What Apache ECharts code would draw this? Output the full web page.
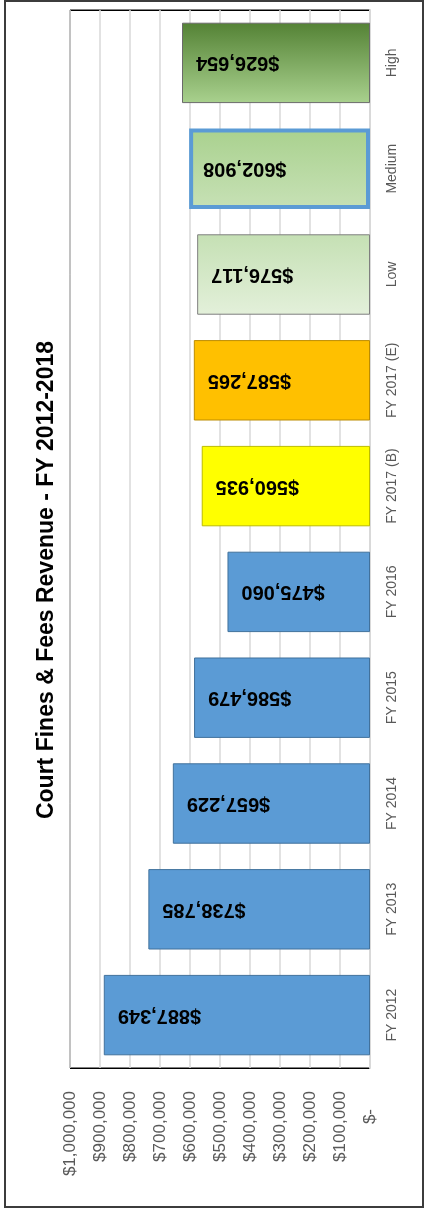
<!DOCTYPE html>
<html>
<head>
<meta charset="utf-8">
<script src="https://cdn.jsdelivr.net/npm/echarts@6/dist/echarts.min.js"></script>
<style>
  html, body { margin: 0; padding: 0; background: #ffffff; }
  #chart { width: 425px; height: 1209px; }
</style>
</head>
<body>
<div id="chart"></div>
<script>
// Court fines & fees revenue, actuals FY 2012-2016, FY 2017 budget/estimate, FY 2018 scenarios
const titleText = 'Court Fines & Fees Revenue - FY 2012-2018';
const categories = ['FY 2012', 'FY 2013', 'FY 2014', 'FY 2015', 'FY 2016',
                    'FY 2017 (B)', 'FY 2017 (E)', 'Low', 'Medium', 'High'];
const revenue = [887349, 738785, 657229, 586479, 475060, 560935, 587265, 576117, 602908, 626654];
const valueTickLabels = ['$-', '$100,000', '$200,000', '$300,000', '$400,000', '$500,000',
                         '$600,000', '$700,000', '$800,000', '$900,000', '$1,000,000'];
const valueMax = 1000000;
const valueStep = 100000;

const FONT = '"Liberation Sans", Arial, sans-serif';

function vGrad(top, bottom) {
  return new echarts.graphic.LinearGradient(0, 0, 0, 1, [
    { offset: 0, color: top },
    { offset: 1, color: bottom }
  ]);
}

// Fill/border per category: actuals blue, budget yellow, estimate orange, scenarios green
const actualStyle = { color: '#5b9bd5', borderColor: '#41719c', borderWidth: 1 };
const barStyles = [
  actualStyle, actualStyle, actualStyle, actualStyle, actualStyle,
  { color: '#ffff00', borderColor: '#bcbc00', borderWidth: 1 },
  { color: '#ffc000', borderColor: '#bc8c00', borderWidth: 1 },
  { color: vGrad('#c5e0b4', '#e3f0da'), borderColor: '#7f7f7f', borderWidth: 1 },
  { color: vGrad('#a9d18e', '#c7e1b6'), borderColor: '#5b9bd5', borderWidth: 4 },
  { color: vGrad('#548235', '#a9d18e'), borderColor: '#6a6a6a', borderWidth: 1 }
];

const chart = echarts.init(document.getElementById('chart'), null, { renderer: 'canvas' });

chart.setOption({
  backgroundColor: '#ffffff',
  animation: false,
  grid: {
    left: 70, right: 55, top: 10, bottom: 141,
    show: true, borderColor: '#000000', borderWidth: 1, backgroundColor: 'transparent'
  },
  xAxis: {
    type: 'value',
    inverse: true,
    position: 'bottom',
    min: 0,
    max: valueMax,
    interval: valueStep,
    axisLine: { show: false },
    axisTick: { show: false },
    splitLine: { show: true, lineStyle: { color: '#d9d9d9', width: 1.5 } },
    axisLabel: {
      rotate: 90,
      margin: 23,
      color: '#595959',
      fontFamily: FONT,
      fontSize: 17,
      formatter: function (v) {
        const i = Math.round(v / valueStep);
        return i === 0 ? '{dash|' + valueTickLabels[0] + '}' : valueTickLabels[i];
      },
      rich: {
        dash: { color: '#595959', fontFamily: FONT, fontSize: 17, padding: [0, 18, 0, 0] }
      }
    }
  },
  yAxis: {
    type: 'category',
    position: 'right',
    data: categories,
    axisLine: { show: true, lineStyle: { color: '#d9d9d9', width: 2 } },
    axisTick: { show: false },
    splitLine: {
      show: true,
      interval: function (index) { return index === 7; },
      lineStyle: { color: '#000000', width: 1 }
    },
    axisLabel: {
      rotate: 90,
      margin: 15,
      color: '#595959',
      fontFamily: FONT,
      fontSize: 14
    }
  },
  series: [{
    type: 'bar',
    barCategoryGap: '24%',
    data: revenue.map(function (v, i) { return { value: v, itemStyle: barStyles[i] }; }),
    label: {
      show: true,
      position: 'insideLeft',
      distance: 14,
      rotate: 180,
      align: 'right',
      verticalAlign: 'middle',
      color: '#000000',
      fontFamily: FONT,
      fontWeight: 'bold',
      fontSize: 20,
      formatter: function (p) { return '$' + p.value.toLocaleString('en-US'); }
    }
  }],
  graphic: [
    {
      type: 'rect',
      silent: true,
      shape: { x: 5, y: 1, width: 418, height: 1206 },
      style: { fill: 'none', stroke: '#3c3c3c', lineWidth: 2 }
    },
    {
      type: 'text',
      x: 47,
      y: 580,
      rotation: Math.PI / 2,
      style: {
        text: titleText,
        fill: '#000000',
        font: 'bold 23px ' + FONT,
        align: 'center',
        verticalAlign: 'middle'
      }
    }
  ]
});
</script>
</body>
</html>
